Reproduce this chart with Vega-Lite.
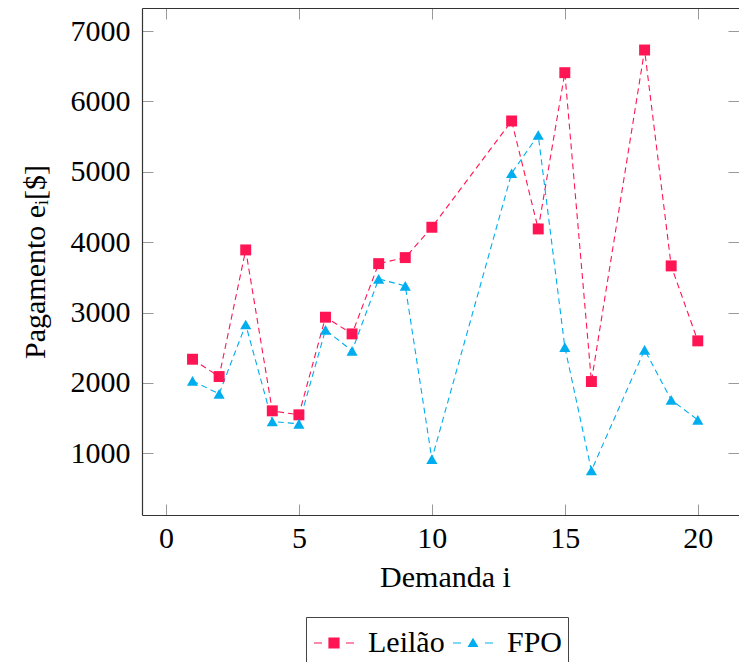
{
  "$schema": "https://vega.github.io/schema/vega-lite/v6.json",
  "width": 597,
  "height": 507,
  "autosize": {"type": "none"},
  "padding": {"left": 142, "top": 8, "right": 0, "bottom": 147},
  "background": "white",
  "config": {
    "view": {"stroke": null},
    "font": "Liberation Serif",
    "axis": {
      "grid": false,
      "labelFont": "Liberation Serif",
      "labelFontSize": 30,
      "labelColor": "#000",
      "titleFont": "Liberation Serif",
      "titleFontSize": 30,
      "titleFontWeight": "normal",
      "titleColor": "#000",
      "tickColor": "#999",
      "tickWidth": 1,
      "tickSize": -11,
      "domainColor": "#333",
      "domainWidth": 1.2
    },
    "legend": {
      "labelFont": "Liberation Serif",
      "labelFontSize": 30,
      "labelColor": "#000",
      "strokeColor": "#444",
      "padding": 5,
      "columnPadding": 5,
      "labelOffset": 13,
      "symbolSize": 1600,
      "symbolStrokeWidth": 1.2,
      "symbolOffset": 2,
      "symbolOpacity": 1
    }
  },
  "data": {
    "values": [
      {"i": 1, "serie": "Leilão", "valor": 2337},
      {"i": 2, "serie": "Leilão", "valor": 2091},
      {"i": 3, "serie": "Leilão", "valor": 3890},
      {"i": 4, "serie": "Leilão", "valor": 1604},
      {"i": 5, "serie": "Leilão", "valor": 1547},
      {"i": 6, "serie": "Leilão", "valor": 2934},
      {"i": 7, "serie": "Leilão", "valor": 2697},
      {"i": 8, "serie": "Leilão", "valor": 3695},
      {"i": 9, "serie": "Leilão", "valor": 3781},
      {"i": 10, "serie": "Leilão", "valor": 4212},
      {"i": 13, "serie": "Leilão", "valor": 5722},
      {"i": 14, "serie": "Leilão", "valor": 4188},
      {"i": 15, "serie": "Leilão", "valor": 6408},
      {"i": 16, "serie": "Leilão", "valor": 2020},
      {"i": 18, "serie": "Leilão", "valor": 6730},
      {"i": 19, "serie": "Leilão", "valor": 3663},
      {"i": 20, "serie": "Leilão", "valor": 2598},
      {"i": 1, "serie": "FPO", "valor": 2030},
      {"i": 2, "serie": "FPO", "valor": 1845},
      {"i": 3, "serie": "FPO", "valor": 2830},
      {"i": 4, "serie": "FPO", "valor": 1452},
      {"i": 5, "serie": "FPO", "valor": 1419},
      {"i": 6, "serie": "FPO", "valor": 2754},
      {"i": 7, "serie": "FPO", "valor": 2456},
      {"i": 8, "serie": "FPO", "valor": 3478},
      {"i": 9, "serie": "FPO", "valor": 3379},
      {"i": 10, "serie": "FPO", "valor": 918},
      {"i": 13, "serie": "FPO", "valor": 4979},
      {"i": 14, "serie": "FPO", "valor": 5523},
      {"i": 15, "serie": "FPO", "valor": 2509},
      {"i": 16, "serie": "FPO", "valor": 756},
      {"i": 18, "serie": "FPO", "valor": 2470},
      {"i": 19, "serie": "FPO", "valor": 1760},
      {"i": 20, "serie": "FPO", "valor": 1476}
    ]
  },
  "resolve": {"axis": {"x": "independent", "y": "independent"}},
  "layer": [
    {
      "transform": [{"filter": "datum.serie === 'Leilão'"}],
      "mark": {"type": "line", "strokeDash": [6, 4], "strokeWidth": 1.1, "color": "#FF1553"},
      "encoding": {
        "x": {
          "field": "i", "type": "quantitative",
          "scale": {"domain": [-0.9, 21.55], "nice": false, "zero": false},
          "axis": {"orient": "bottom", "values": [0, 5, 10, 15, 20], "title": "Demanda i", "labelPadding": 19, "titlePadding": 9, "titleX": 303}
        },
        "y": {
          "field": "valor", "type": "quantitative",
          "scale": {"domain": [124, 7327], "nice": false, "zero": false},
          "axis": {"orient": "left", "values": [1000, 2000, 3000, 4000, 5000, 6000, 7000], "format": "d", "title": "Pagamento eᵢ[$]", "labelPadding": 23, "titlePadding": 20}
        }
      }
    },
    {
      "transform": [{"filter": "datum.serie === 'FPO'"}],
      "mark": {"type": "line", "strokeDash": [6, 4], "strokeWidth": 1.1, "color": "#00AEEF"},
      "encoding": {
        "x": {"field": "i", "type": "quantitative", "axis": null},
        "y": {"field": "valor", "type": "quantitative", "axis": null}
      }
    },
    {
      "transform": [{"filter": "datum.serie === 'Leilão'"}],
      "mark": {"type": "point", "shape": "square", "filled": true, "opacity": 1, "size": 120, "color": "#FF1553"},
      "encoding": {
        "x": {"field": "i", "type": "quantitative", "axis": null},
        "y": {"field": "valor", "type": "quantitative", "axis": null}
      }
    },
    {
      "transform": [{"filter": "datum.serie === 'FPO'"}],
      "mark": {"type": "point", "shape": "triangle-up", "filled": true, "opacity": 1, "size": 125, "color": "#00AEEF"},
      "encoding": {
        "x": {"field": "i", "type": "quantitative", "axis": null},
        "y": {"field": "valor", "type": "quantitative", "axis": null}
      }
    },
    {
      "transform": [{"filter": "false"}],
      "mark": {"type": "point", "filled": true, "opacity": 1},
      "encoding": {
        "x": {"field": "i", "type": "quantitative", "axis": null},
        "y": {"field": "valor", "type": "quantitative", "axis": null},
        "shape": {
          "field": "serie", "type": "nominal",
          "scale": {"domain": ["Leilão", "FPO"], "range": ["M-1,0H-0.6M-0.25,-0.25H0.25V0.25H-0.25ZM0.6,0H1", "M-1,0H-0.6M-0.22,0.17L0,-0.2L0.22,0.17ZM0.6,0H1"]},
          "legend": {"title": null, "orient": "none", "direction": "horizontal", "legendX": 164, "legendY": 609, "labelFont": "Liberation Serif", "labelFontSize": 30, "symbolOpacity": 1}
        },
        "color": {
          "field": "serie", "type": "nominal",
          "scale": {"domain": ["Leilão", "FPO"], "range": ["#FF1553", "#00AEEF"]},
          "legend": {"title": null, "orient": "none", "direction": "horizontal", "legendX": 164, "legendY": 609, "labelFont": "Liberation Serif", "labelFontSize": 30, "symbolOpacity": 1}
        },
        "stroke": {
          "field": "serie", "type": "nominal",
          "scale": {"domain": ["Leilão", "FPO"], "range": ["#FF1553", "#00AEEF"]},
          "legend": {"title": null, "orient": "none", "direction": "horizontal", "legendX": 164, "legendY": 609, "labelFont": "Liberation Serif", "labelFontSize": 30, "symbolOpacity": 1}
        }
      }
    },
    {
      "transform": [{"filter": "false"}],
      "mark": {"type": "point"},
      "encoding": {
        "x": {"field": "i", "type": "quantitative", "axis": {"orient": "top", "values": [0, 5, 10, 15, 20], "labels": false, "title": null}},
        "y": {"field": "valor", "type": "quantitative", "axis": {"orient": "right", "values": [1000, 2000, 3000, 4000, 5000, 6000, 7000], "labels": false, "domain": false, "title": null}}
      }
    }
  ]
}
